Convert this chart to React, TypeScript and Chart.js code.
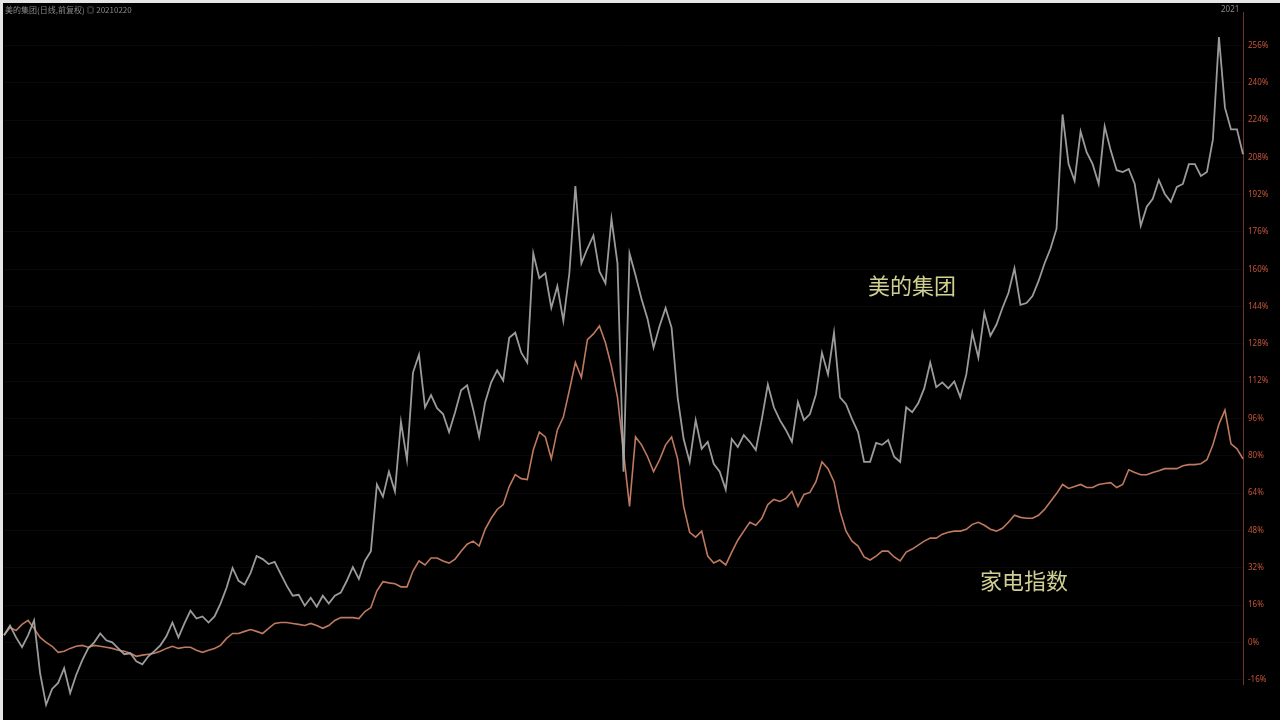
import React, { useEffect, useRef } from "react";
import { Chart, registerables } from "chart.js";

Chart.register(...registerables);

// Trading-day index (sampled evenly along the time axis)
const midea: number[] = [
  3.0, 7.2, 2.1, -2.1, 3.0, 9.4, -13.2, -26.8, -20.0, -17.4, -11.1, -21.7, -14.0, -7.7, -2.6, 0, 3.8, 0.9, 0, -2.6,
  -5.1, -4.7, -8.1, -9.4, -6.0, -3.8, -1.3, 2.6, 8.5, 2.1, 8.1, 13.6, 10.2, 11.1, 8.5, 11.1, 16.6, 23.4, 31.9, 26.4,
  24.7, 29.8, 37.0, 35.7, 33.6, 34.5, 29.4, 24.3, 20.0, 20.4, 15.7, 19.1, 15.3, 20.0, 16.6, 20.0, 21.3, 26.4, 32.3, 27.2,
  34.9, 39.1, 67.7, 62.5, 73.2, 64.7, 94.5, 78.3, 115.7, 123.4, 100.8, 106.0, 100.4, 97.9, 90.2, 98.7, 108.1, 110.2, 100.0, 88.1,
  103.0, 111.5, 116.6, 112.3, 130.6, 132.8, 124.2, 120.0, 166.8, 156.2, 158.3, 143.4, 152.8, 137.9, 158.3, 195.7, 162.5, 168.9, 174.5, 159.1,
  154.0, 181.7, 162.5, 73.2, 166.8, 157.4, 147.2, 138.7, 126.4, 135.7, 143.4, 134.9, 105.1, 87.2, 77.4, 95.3, 83.0, 86.0, 76.6, 73.2,
  65.5, 87.2, 83.8, 88.9, 86.0, 82.5, 95.7, 110.6, 100.8, 95.3, 91.1, 86.0, 103.0, 95.3, 97.9, 106.4, 124.2, 114.9, 132.8, 105.1,
  102.1, 95.7, 90.2, 77.4, 77.4, 85.5, 84.7, 86.8, 79.6, 77.4, 100.8, 98.7, 102.5, 108.9, 120.0, 109.4, 111.5, 108.9, 111.9, 105.1,
  114.9, 132.8, 122.1, 141.3, 131.5, 136.2, 143.4, 149.8, 160.4, 144.7, 145.5, 148.5, 154.9, 162.5, 168.9, 177.4, 226.4, 205.1, 197.9, 219.1,
  210.2, 205.1, 196.6, 221.3, 211.0, 202.5, 201.7, 203.0, 196.6, 178.7, 186.8, 190.2, 198.3, 192.3, 188.9, 195.3, 196.6, 205.1, 205.1, 200.0,
  201.7, 215.7, 259.6, 229.3, 220.0, 220.0, 209.3,
];

const applianceIndex: number[] = [
  3.0, 6.4, 5.1, 7.7, 9.4, 6.0, 2.1, 0, -1.7, -4.3, -3.8, -2.6, -1.7, -1.3, -2.1, -1.3, -1.7, -2.1, -2.6, -3.4,
  -3.8, -4.7, -6.0, -5.5, -5.1, -4.7, -3.8, -2.6, -1.7, -2.6, -2.1, -2.1, -3.4, -4.3, -3.4, -2.6, -1.3, 1.7, 3.8, 3.8,
  4.7, 5.5, 4.7, 3.8, 6.0, 8.1, 8.5, 8.5, 8.1, 7.7, 7.2, 8.1, 7.2, 6.0, 7.2, 9.4, 10.6, 10.6, 10.6, 10.2,
  13.2, 14.9, 22.1, 26.0, 25.5, 25.1, 23.8, 23.8, 30.6, 34.9, 33.2, 36.2, 36.2, 34.9, 34.0, 35.7, 39.1, 42.1, 43.4, 41.3,
  48.5, 53.2, 57.0, 59.1, 66.8, 71.9, 70.2, 69.8, 82.5, 90.2, 88.1, 78.7, 91.1, 96.6, 108.1, 120.0, 113.6, 129.8, 132.3, 135.7,
  128.5, 118.3, 105.1, 81.7, 58.3, 88.1, 84.7, 79.6, 73.2, 78.3, 84.7, 88.1, 78.7, 58.3, 47.2, 45.1, 47.7, 37.0, 34.0, 35.3,
  33.2, 38.7, 43.8, 47.7, 51.5, 50.2, 53.2, 59.1, 61.3, 60.4, 61.7, 64.7, 58.3, 63.4, 64.3, 68.9, 77.4, 74.5, 68.9, 56.2,
  47.7, 43.4, 41.3, 36.6, 35.3, 37.0, 39.1, 39.1, 36.6, 34.9, 38.7, 40.0, 41.7, 43.4, 44.7, 44.7, 46.4, 47.2, 47.7, 47.7,
  48.5, 50.6, 51.5, 50.2, 48.5, 47.7, 48.9, 51.5, 54.5, 53.6, 53.2, 53.2, 54.5, 57.0, 60.4, 63.8, 67.7, 66.0, 66.8, 67.7,
  66.4, 66.4, 67.7, 68.1, 68.5, 66.4, 67.7, 74.0, 72.8, 71.9, 71.9, 72.8, 73.6, 74.5, 74.5, 74.5, 75.7, 76.2, 76.2, 76.6,
  78.3, 84.7, 93.6, 99.6, 85.1, 83.0, 78.7,
];

const days: string[] = midea.map((_, i) => String(i + 1));

const yMin = -18;
const yMax = 270;
const yTickValues: number[] = [
  -16, 0, 16, 32, 48, 64, 80, 96, 112, 128, 144, 160, 176, 192, 208, 224, 240, 256,
];

const titleText = "美的集团(日线,前复权) ◎ 20210220";
const cornerText = "2021";
const labelMidea = "美的集团";
const labelIndex = "家电指数";

export default function App() {
  const ref = useRef<HTMLCanvasElement | null>(null);

  useEffect(() => {
    document.body.style.margin = "0";
    document.body.style.background = "#e6e6e6";
    const canvas = ref.current;
    if (!canvas) return;
    const chart = new Chart(canvas, {
      type: "line",
      data: {
        labels: days,
        datasets: [
          {
            label: labelMidea,
            data: midea,
            borderColor: "rgba(172,172,172,0.9)",
            borderWidth: 1.8,
            pointRadius: 0,
            tension: 0,
            clip: false,
          },
          {
            label: labelIndex,
            data: applianceIndex,
            borderColor: "rgba(200,128,100,0.95)",
            borderWidth: 1.6,
            pointRadius: 0,
            tension: 0,
            clip: false,
          },
        ],
      },
      options: {
        responsive: false,
        animation: false,
        events: [],
        layout: { padding: { left: 1, top: 4.5, bottom: 35.7, right: 0 } },
        plugins: { legend: { display: false }, tooltip: { enabled: false } },
        scales: {
          x: { display: false, offset: false },
          y: {
            position: "right",
            min: yMin,
            max: yMax,
            afterBuildTicks: (s: any) => {
              s.ticks = yTickValues.map((v) => ({ value: v }));
            },
            afterFit: (s: any) => {
              s.width = 37;
            },
            border: { display: true, color: "#6e3426", width: 1 },
            grid: {
              color: "rgba(255,255,255,0.035)",
              drawTicks: false,
            },
            ticks: {
              color: "#c4553a",
              padding: 5,
              font: { family: "Noto Sans", size: 8 },
              callback: (v: any) => `${v}%`,
            },
          },
        },
      },
    });
    return () => chart.destroy();
  }, []);

  return (
    <div style={{ position: "relative", width: 1280, height: 720, background: "#e6e6e6", overflow: "hidden" }}>
      <div style={{ position: "absolute", left: 3, top: 3, width: 1277, height: 717, background: "#000" }}>
        <canvas ref={ref} width={1277} height={717} style={{ display: "block" }} />
        <div
          style={{
            position: "absolute",
            left: 2,
            top: 2,
            color: "#8a8a8a",
            fontFamily: "'Noto Sans CJK SC', sans-serif",
            fontSize: 8,
            lineHeight: "10px",
            whiteSpace: "nowrap",
          }}
        >
          {titleText}
        </div>
        <div
          style={{
            position: "absolute",
            left: 1218,
            top: 1,
            color: "#8a8a8a",
            fontFamily: "'Noto Sans', sans-serif",
            fontSize: 8,
            lineHeight: "10px",
          }}
        >
          {cornerText}
        </div>
        <div
          style={{
            position: "absolute",
            left: 865,
            top: 267,
            color: "#cfcf92",
            fontFamily: "'Noto Sans CJK SC', serif",
            fontSize: 22,
            lineHeight: "28px",
            whiteSpace: "nowrap",
          }}
        >
          {labelMidea}
        </div>
        <div
          style={{
            position: "absolute",
            left: 977,
            top: 562,
            color: "#cfcf92",
            fontFamily: "'Noto Sans CJK SC', serif",
            fontSize: 22,
            lineHeight: "28px",
            whiteSpace: "nowrap",
          }}
        >
          {labelIndex}
        </div>
      </div>
    </div>
  );
}
